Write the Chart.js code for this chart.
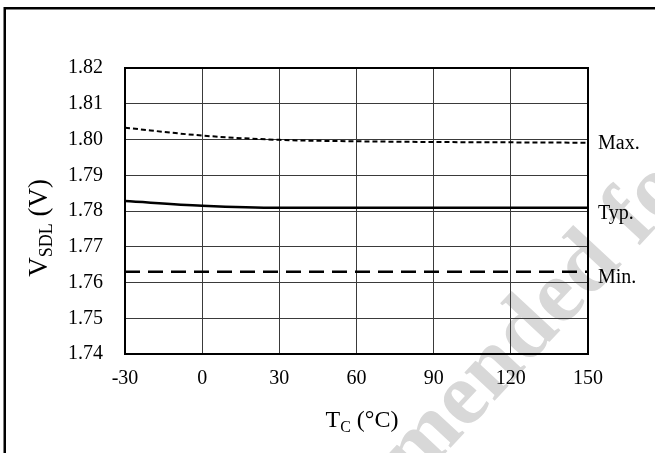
<!DOCTYPE html>
<html><head><meta charset="utf-8">
<script src="https://cdn.jsdelivr.net/npm/chart.js@4"></script>
<style>html,body{margin:0;padding:0;background:#fff}#wrap{width:655px;height:453px;position:relative}</style>
</head><body><div id="wrap"><canvas id="c" width="655" height="453"></canvas></div>
<script>
const temperatures = [-30, 0, 30, 60, 90, 120, 150];
const vMax = [1.8033, 1.8011, 1.7999, 1.7995, 1.7993, 1.7992, 1.7991];
const vTyp = [1.7828, 1.7815, 1.7809, 1.7809, 1.7809, 1.7809, 1.7809];
const vMin = [1.7630, 1.7630, 1.7630, 1.7630, 1.7630, 1.7630, 1.7630];
const seriesNames = ['Max.', 'Typ.', 'Min.'];
const xTickValues = [-30, 0, 30, 60, 90, 120, 150];
const yTickValues = [1.74, 1.75, 1.76, 1.77, 1.78, 1.79, 1.80, 1.81, 1.82];
const watermarkText = 'Not Recommended for New Design';

const SERIF = "'Liberation Serif', 'Times New Roman', serif";

function pts(arr) { return temperatures.map((t, i) => ({x: t, y: arr[i]})); }

function drawParts(ctx, parts, x, y) {
  parts.forEach(p => { ctx.font = p[1]; ctx.fillText(p[0], x, y + p[2]); x += ctx.measureText(p[0]).width; });
}
function partsWidth(ctx, parts) {
  let w = 0;
  parts.forEach(p => { ctx.font = p[1]; w += ctx.measureText(p[0]).width; });
  return w;
}

const decor = {
  id: 'decor',
  beforeDraw(chart) {
    const ctx = chart.ctx;
    ctx.save();
    ctx.fillStyle = '#fff';
    ctx.fillRect(0, 0, chart.width, chart.height);
    // watermark
    const fs = 90;
    ctx.font = 'bold ' + fs + 'px ' + SERIF;
    ctx.fillStyle = '#d8d8d8';
    ctx.translate(425, 445);
    ctx.rotate(-47 * Math.PI / 180);
    const w0 = ctx.measureText('Not Recom').width;
    const wm = ctx.measureText('m').width;
    ctx.textBaseline = 'alphabetic';
    ctx.fillText(watermarkText, -(w0 + wm / 2), 0.23 * fs);
    ctx.restore();
  },
  afterDatasetsDraw(chart) {
    const ctx = chart.ctx;
    const a = chart.chartArea;
    const ys = chart.scales.y;
    ctx.save();
    // plot border
    ctx.strokeStyle = '#000';
    ctx.lineWidth = 2;
    ctx.strokeRect(a.left, a.top, a.right - a.left, a.bottom - a.top);
    // outer frame
    ctx.lineWidth = 2.5;
    ctx.strokeRect(4.75, 8.25, 700, 500);
    // series labels at right
    ctx.fillStyle = '#000';
    ctx.font = '20px ' + SERIF;
    ctx.textAlign = 'left';
    ctx.textBaseline = 'middle';
    const ends = [vMax, vTyp, vMin];
    const offs = [1, 6, 6];
    ends.forEach((arr, i) => {
      const y = ys.getPixelForValue(arr[arr.length - 1]) + offs[i];
      ctx.fillText(seriesNames[i], a.right + 10, y);
    });
    ctx.textBaseline = 'alphabetic';
    // x title
    const xParts = [['T', '24px ' + SERIF, 0], ['C', '16px ' + SERIF, 5], [' (\u00B0C)', '24px ' + SERIF, 0]];
    let tw = partsWidth(ctx, xParts);
    drawParts(ctx, xParts, 362 - tw / 2, 427);
    // y title
    const yParts = [['V', '27px ' + SERIF, 0], ['SDL', '18px ' + SERIF, 5], [' (V)', '27px ' + SERIF, 0]];
    tw = partsWidth(ctx, yParts);
    ctx.translate(47, 228);
    ctx.rotate(-Math.PI / 2);
    drawParts(ctx, yParts, -tw / 2, 0);
    ctx.restore();
  }
};

new Chart(document.getElementById('c'), {
  type: 'line',
  data: {
    datasets: [
      {label: seriesNames[0], data: pts(vMax), borderColor: '#000', borderWidth: 2, borderDash: [5, 3], pointRadius: 0, cubicInterpolationMode: 'monotone', fill: false},
      {label: seriesNames[1], data: pts(vTyp), borderColor: '#000', borderWidth: 2.5, pointRadius: 0, cubicInterpolationMode: 'monotone', fill: false},
      {label: seriesNames[2], data: pts(vMin), borderColor: '#000', borderWidth: 2.5, borderDash: [15, 8], pointRadius: 0, cubicInterpolationMode: 'monotone', fill: false}
    ]
  },
  options: {
    responsive: false,
    animation: false,
    devicePixelRatio: 1,
    layout: {padding: {left: 0, top: 68, right: 67, bottom: 0}},
    plugins: {legend: {display: false}, tooltip: {enabled: false}, title: {display: false}},
    scales: {
      x: {
        type: 'linear', min: -30, max: 150,
        afterBuildTicks: s => { s.ticks = xTickValues.map(v => ({value: v})); },
        afterFit: s => { s.height = 99; },
        grid: {color: '#3a3a3a', lineWidth: 1, drawTicks: false},
        border: {display: false},
        ticks: {color: '#000', font: {family: SERIF, size: 20}, padding: 13, maxRotation: 0, callback: v => String(v)}
      },
      y: {
        type: 'linear', min: 1.74, max: 1.82,
        afterBuildTicks: s => { s.ticks = yTickValues.map(v => ({value: v})); },
        afterFit: s => { s.width = 125; },
        grid: {color: '#3a3a3a', lineWidth: 1, drawTicks: false},
        border: {display: false},
        ticks: {color: '#000', font: {family: SERIF, size: 20}, padding: 22, callback: v => Number(v).toFixed(2)}
      }
    }
  },
  plugins: [decor]
});
</script>
</body></html>
